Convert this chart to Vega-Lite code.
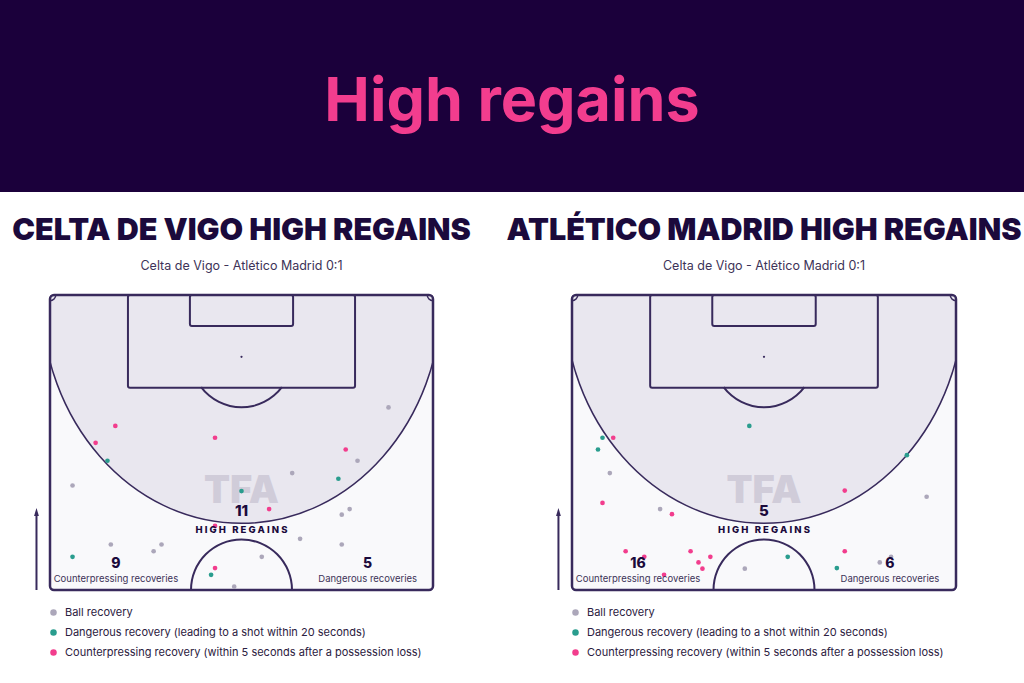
{
  "$schema": "https://vega.github.io/schema/vega-lite/v6.json",
  "padding": 0,
  "background": "white",
  "bounds": "flush",
  "spacing": 103,
  "config": {"view": {"stroke": null}, "font": "Inter"},
  "datasets": {
    "rec": [
      {"team": "Celta de Vigo", "type": "Ball recovery", "x": 60.1, "y": 20.0},
      {"team": "Celta de Vigo", "type": "Ball recovery", "x": 54.6, "y": 29.5},
      {"team": "Celta de Vigo", "type": "Ball recovery", "x": 43.0, "y": 31.7},
      {"team": "Celta de Vigo", "type": "Ball recovery", "x": 4.0, "y": 33.9},
      {"team": "Celta de Vigo", "type": "Ball recovery", "x": 53.2, "y": 38.1},
      {"team": "Celta de Vigo", "type": "Ball recovery", "x": 51.8, "y": 39.1},
      {"team": "Celta de Vigo", "type": "Ball recovery", "x": 44.4, "y": 43.4},
      {"team": "Celta de Vigo", "type": "Ball recovery", "x": 51.8, "y": 44.4},
      {"team": "Celta de Vigo", "type": "Ball recovery", "x": 10.8, "y": 44.4},
      {"team": "Celta de Vigo", "type": "Ball recovery", "x": 19.8, "y": 44.4},
      {"team": "Celta de Vigo", "type": "Ball recovery", "x": 18.4, "y": 45.6},
      {"team": "Celta de Vigo", "type": "Ball recovery", "x": 37.6, "y": 46.6},
      {"team": "Celta de Vigo", "type": "Ball recovery", "x": 32.7, "y": 51.9},
      {"team": "Celta de Vigo", "type": "Dangerous recovery", "x": 10.2, "y": 29.5},
      {"team": "Celta de Vigo", "type": "Dangerous recovery", "x": 51.2, "y": 32.7},
      {"team": "Celta de Vigo", "type": "Dangerous recovery", "x": 34.0, "y": 34.9},
      {"team": "Celta de Vigo", "type": "Dangerous recovery", "x": 4.0, "y": 46.6},
      {"team": "Celta de Vigo", "type": "Dangerous recovery", "x": 28.6, "y": 49.8},
      {"team": "Celta de Vigo", "type": "Counterpressing recovery", "x": 11.6, "y": 23.3},
      {"team": "Celta de Vigo", "type": "Counterpressing recovery", "x": 8.1, "y": 26.3},
      {"team": "Celta de Vigo", "type": "Counterpressing recovery", "x": 29.3, "y": 25.4},
      {"team": "Celta de Vigo", "type": "Counterpressing recovery", "x": 52.5, "y": 27.5},
      {"team": "Celta de Vigo", "type": "Counterpressing recovery", "x": 38.9, "y": 38.1},
      {"team": "Celta de Vigo", "type": "Counterpressing recovery", "x": 29.3, "y": 41.1},
      {"team": "Celta de Vigo", "type": "Counterpressing recovery", "x": 29.3, "y": 48.6},
      {"team": "Atlético Madrid", "type": "Ball recovery", "x": 6.7, "y": 31.7},
      {"team": "Atlético Madrid", "type": "Ball recovery", "x": 15.6, "y": 38.1},
      {"team": "Atlético Madrid", "type": "Ball recovery", "x": 62.8, "y": 35.9},
      {"team": "Atlético Madrid", "type": "Ball recovery", "x": 30.6, "y": 48.7},
      {"team": "Atlético Madrid", "type": "Ball recovery", "x": 56.5, "y": 46.6},
      {"team": "Atlético Madrid", "type": "Ball recovery", "x": 54.5, "y": 47.6},
      {"team": "Atlético Madrid", "type": "Dangerous recovery", "x": 31.4, "y": 23.3},
      {"team": "Atlético Madrid", "type": "Dangerous recovery", "x": 5.4, "y": 25.4},
      {"team": "Atlético Madrid", "type": "Dangerous recovery", "x": 4.6, "y": 27.5},
      {"team": "Atlético Madrid", "type": "Dangerous recovery", "x": 59.3, "y": 28.5},
      {"team": "Atlético Madrid", "type": "Dangerous recovery", "x": 38.2, "y": 46.6},
      {"team": "Atlético Madrid", "type": "Dangerous recovery", "x": 46.9, "y": 48.6},
      {"team": "Atlético Madrid", "type": "Counterpressing recovery", "x": 7.3, "y": 25.4},
      {"team": "Atlético Madrid", "type": "Counterpressing recovery", "x": 5.4, "y": 37.0},
      {"team": "Atlético Madrid", "type": "Counterpressing recovery", "x": 17.7, "y": 39.0},
      {"team": "Atlético Madrid", "type": "Counterpressing recovery", "x": 48.3, "y": 34.8},
      {"team": "Atlético Madrid", "type": "Counterpressing recovery", "x": 9.5, "y": 45.6},
      {"team": "Atlético Madrid", "type": "Counterpressing recovery", "x": 12.8, "y": 46.6},
      {"team": "Atlético Madrid", "type": "Counterpressing recovery", "x": 21.0, "y": 45.6},
      {"team": "Atlético Madrid", "type": "Counterpressing recovery", "x": 24.5, "y": 46.6},
      {"team": "Atlético Madrid", "type": "Counterpressing recovery", "x": 22.4, "y": 47.6},
      {"team": "Atlético Madrid", "type": "Counterpressing recovery", "x": 23.1, "y": 48.7},
      {"team": "Atlético Madrid", "type": "Counterpressing recovery", "x": 16.3, "y": 49.8},
      {"team": "Atlético Madrid", "type": "Counterpressing recovery", "x": 48.3, "y": 45.6}
    ],
    "counts": [
      {"team": "Celta de Vigo", "high": 11, "counter": 9, "dangerous": 5},
      {"team": "Atlético Madrid", "high": 5, "counter": 16, "dangerous": 6}
    ]
  },
  "vconcat": [
    {
      "width": 1024,
      "height": 192,
      "view": {"fill": "#1b003b", "stroke": null},
      "data": {"values": [{}]},
      "mark": {"type": "text", "text": "High regains", "font": "Inter", "fontSize": 61, "fontWeight": 700, "color": "#f23d8e", "baseline": "middle", "dy": 7},
      "encoding": {
        "x": {"datum": 0.5, "type": "quantitative", "scale": {"domain": [0, 1]}, "axis": null},
        "y": {"datum": 0.5, "type": "quantitative", "scale": {"domain": [0, 1]}, "axis": null}
      }
    },
    {
      "bounds": "flush",
      "spacing": 49,
      "hconcat": [
        {
          "width": 1,
          "height": 295,
          "data": {"values": [{}]},
          "mark": {"type": "text", "text": ""},
          "encoding": {}
        },
        {
          "bounds": "flush",
          "spacing": 139,
          "resolve": {"scale": {"x": "independent", "y": "independent", "color": "independent"}},
          "hconcat": [
            {
              "width": 383,
              "height": 295,
              "view": {"fill": "#f9f9fb", "stroke": null},
              "title": {"text": "CELTA DE VIGO HIGH REGAINS", "subtitle": "Celta de Vigo - Atlético Madrid 0:1", "anchor": "middle", "font": "Inter", "fontSize": 30.5, "fontWeight": 900, "color": "#1b0a3c", "subtitleFont": "Inter", "subtitleFontSize": 12.5, "subtitleColor": "#3d3358", "subtitlePadding": 14, "offset": 21},
              "layer": [
                {"data": {"values": [{}]}, "mark": {"type": "point", "shape": "M 0.877 0 C 0.877 0.5523 0.4844 1 0 1 C -0.4844 1 -0.877 0.5523 -0.877 0 C -0.877 -0.5523 -0.4844 -1 0 -1 C 0.4844 -1 0.877 -0.5523 0.877 0 Z", "size": 208500, "filled": true, "fill": "#e9e7ef", "stroke": "#382a5c", "strokeWidth": 1.5, "opacity": 1, "clip": true},
                 "encoding": {"x": {"datum": 34, "type": "quantitative", "scale": {"domain": [0, 68]}, "axis": null}, "y": {"datum": 0, "type": "quantitative", "scale": {"domain": [0, 52.5], "reverse": true}, "axis": null}}},
                {"data": {"values": [{}]}, "mark": {"type": "rect", "fillOpacity": 0, "stroke": "#382a5c", "strokeWidth": 2, "cornerRadius": 2},
                 "encoding": {"x": {"datum": 13.84, "type": "quantitative", "scale": {"domain": [0, 68]}, "axis": null}, "x2": {"datum": 54.16}, "y": {"datum": 0, "type": "quantitative", "scale": {"domain": [0, 52.5], "reverse": true}, "axis": null}, "y2": {"datum": 16.5}}},
                {"data": {"values": [{}]}, "mark": {"type": "rect", "fillOpacity": 0, "stroke": "#382a5c", "strokeWidth": 2, "cornerRadius": 2},
                 "encoding": {"x": {"datum": 24.84, "type": "quantitative", "scale": {"domain": [0, 68]}, "axis": null}, "x2": {"datum": 43.16}, "y": {"datum": 0, "type": "quantitative", "scale": {"domain": [0, 52.5], "reverse": true}, "axis": null}, "y2": {"datum": 5.5}}},
                {"data": {"values": [{}]}, "mark": {"type": "point", "filled": true, "size": 5, "color": "#382a5c", "opacity": 1},
                 "encoding": {"x": {"datum": 34, "type": "quantitative", "scale": {"domain": [0, 68]}, "axis": null}, "y": {"datum": 11, "type": "quantitative", "scale": {"domain": [0, 52.5], "reverse": true}, "axis": null}}},
                {"data": {"values": [{}]}, "mark": {"type": "arc", "radius": 51.5, "radius2": 49.5, "theta": 2.214, "theta2": 4.069, "color": "#382a5c"},
                 "encoding": {"x": {"datum": 34, "type": "quantitative", "scale": {"domain": [0, 68]}, "axis": null}, "y": {"datum": 11, "type": "quantitative", "scale": {"domain": [0, 52.5], "reverse": true}, "axis": null}}},
                {"data": {"values": [{}]}, "mark": {"type": "arc", "radius": 51.5, "radius2": 49.5, "theta": -1.5708, "theta2": 1.5708, "color": "#382a5c"},
                 "encoding": {"x": {"datum": 34, "type": "quantitative", "scale": {"domain": [0, 68]}, "axis": null}, "y": {"datum": 52.5, "type": "quantitative", "scale": {"domain": [0, 52.5], "reverse": true}, "axis": null}}},
                {"data": {"values": [{}]}, "mark": {"type": "arc", "radius": 6.5, "radius2": 5, "theta": 1.5708, "theta2": 3.1416, "color": "#382a5c"},
                 "encoding": {"x": {"datum": 0, "type": "quantitative", "scale": {"domain": [0, 68]}, "axis": null}, "y": {"datum": 0, "type": "quantitative", "scale": {"domain": [0, 52.5], "reverse": true}, "axis": null}}},
                {"data": {"values": [{}]}, "mark": {"type": "arc", "radius": 6.5, "radius2": 5, "theta": 3.1416, "theta2": 4.7124, "color": "#382a5c"},
                 "encoding": {"x": {"datum": 68, "type": "quantitative", "scale": {"domain": [0, 68]}, "axis": null}, "y": {"datum": 0, "type": "quantitative", "scale": {"domain": [0, 52.5], "reverse": true}, "axis": null}}},
                {"data": {"values": [{}]}, "mark": {"type": "rect", "fillOpacity": 0, "stroke": "#382a5c", "strokeWidth": 2.5, "cornerRadius": 4},
                 "encoding": {"x": {"datum": 0, "type": "quantitative", "scale": {"domain": [0, 68]}, "axis": null}, "x2": {"datum": 68}, "y": {"datum": 0, "type": "quantitative", "scale": {"domain": [0, 52.5], "reverse": true}, "axis": null}, "y2": {"datum": 52.5}}},
                {"data": {"values": [{}]}, "mark": {"type": "rule", "color": "#382a5c", "strokeWidth": 2},
                 "encoding": {"x": {"datum": -2.4, "type": "quantitative", "scale": {"domain": [0, 68]}, "axis": null}, "y": {"datum": 38.9, "type": "quantitative", "scale": {"domain": [0, 52.5], "reverse": true}, "axis": null}, "y2": {"datum": 52.5}}},
                {"data": {"values": [{}]}, "mark": {"type": "point", "shape": "M -0.6 1 L 0 -1 L 0.6 1 Z", "filled": true, "size": 64, "color": "#382a5c", "opacity": 1},
                 "encoding": {"x": {"datum": -2.4, "type": "quantitative", "scale": {"domain": [0, 68]}, "axis": null}, "y": {"datum": 38.6, "type": "quantitative", "scale": {"domain": [0, 52.5], "reverse": true}, "axis": null}}},
                {"data": {"values": [{}]}, "mark": {"type": "text", "text": "TFA", "font": "Inter", "fontSize": 38, "fontWeight": 900, "color": "#d0ccd9", "baseline": "alphabetic"},
                 "encoding": {"x": {"datum": 34, "type": "quantitative", "scale": {"domain": [0, 68]}, "axis": null}, "y": {"datum": 37.0, "type": "quantitative", "scale": {"domain": [0, 52.5], "reverse": true}, "axis": null}}},
                {"data": {"name": "rec"}, "transform": [{"filter": "datum.team == 'Celta de Vigo'"}],
                 "mark": {"type": "point", "filled": true, "size": 22, "opacity": 1},
                 "encoding": {
                   "x": {"field": "x", "type": "quantitative", "scale": {"domain": [0, 68]}, "axis": null},
                   "y": {"field": "y", "type": "quantitative", "scale": {"domain": [0, 52.5], "reverse": true}, "axis": null},
                   "color": {"field": "type", "type": "nominal",
                     "scale": {"domain": ["Ball recovery", "Dangerous recovery", "Counterpressing recovery"], "range": ["#aca7ba", "#2a9d8e", "#f23d8d"]},
                     "legend": {"orient": "none", "legendX": -2, "legendY": 312, "title": null, "padding": 0, "labelFont": "Inter", "labelFontSize": 11, "labelColor": "#2b2040", "symbolType": "circle", "symbolSize": 42, "symbolStrokeWidth": 0, "symbolOpacity": 1, "rowPadding": 8, "labelOffset": 6, "labelLimit": 0,
                       "labelExpr": "datum.label == 'Dangerous recovery' ? 'Dangerous recovery (leading to a shot within 20 seconds)' : datum.label == 'Counterpressing recovery' ? 'Counterpressing recovery (within 5 seconds after a possession loss)' : datum.label"}}
                 }},
                {"data": {"name": "counts"}, "transform": [{"filter": "datum.team == 'Celta de Vigo'"}],
                 "mark": {"type": "text", "font": "Inter", "fontSize": 15, "fontWeight": 800, "color": "#1b0a3c"},
                 "encoding": {"x": {"datum": 34, "type": "quantitative", "scale": {"domain": [0, 68]}, "axis": null}, "y": {"datum": 38.5, "type": "quantitative", "scale": {"domain": [0, 52.5], "reverse": true}, "axis": null}, "text": {"field": "high"}}},
                {"data": {"values": [{}]}, "mark": {"type": "text", "text": "H I G H\u00a0\u00a0\u00a0R E G A I N S", "font": "Inter", "fontSize": 9.5, "fontWeight": 800, "color": "#1b0a3c"},
                 "encoding": {"x": {"datum": 34, "type": "quantitative", "scale": {"domain": [0, 68]}, "axis": null}, "y": {"datum": 41.9, "type": "quantitative", "scale": {"domain": [0, 52.5], "reverse": true}, "axis": null}}},
                {"data": {"name": "counts"}, "transform": [{"filter": "datum.team == 'Celta de Vigo'"}],
                 "mark": {"type": "text", "font": "Inter", "fontSize": 14, "fontWeight": 800, "color": "#1b0a3c"},
                 "encoding": {"x": {"datum": 11.7, "type": "quantitative", "scale": {"domain": [0, 68]}, "axis": null}, "y": {"datum": 47.9, "type": "quantitative", "scale": {"domain": [0, 52.5], "reverse": true}, "axis": null}, "text": {"field": "counter"}}},
                {"data": {"values": [{}]}, "mark": {"type": "text", "text": "Counterpressing recoveries", "font": "Inter", "fontSize": 9.5, "color": "#3d3358"},
                 "encoding": {"x": {"datum": 11.7, "type": "quantitative", "scale": {"domain": [0, 68]}, "axis": null}, "y": {"datum": 50.5, "type": "quantitative", "scale": {"domain": [0, 52.5], "reverse": true}, "axis": null}}},
                {"data": {"name": "counts"}, "transform": [{"filter": "datum.team == 'Celta de Vigo'"}],
                 "mark": {"type": "text", "font": "Inter", "fontSize": 14, "fontWeight": 800, "color": "#1b0a3c"},
                 "encoding": {"x": {"datum": 56.4, "type": "quantitative", "scale": {"domain": [0, 68]}, "axis": null}, "y": {"datum": 47.9, "type": "quantitative", "scale": {"domain": [0, 52.5], "reverse": true}, "axis": null}, "text": {"field": "dangerous"}}},
                {"data": {"values": [{}]}, "mark": {"type": "text", "text": "Dangerous recoveries", "font": "Inter", "fontSize": 9.5, "color": "#3d3358"},
                 "encoding": {"x": {"datum": 56.4, "type": "quantitative", "scale": {"domain": [0, 68]}, "axis": null}, "y": {"datum": 50.5, "type": "quantitative", "scale": {"domain": [0, 52.5], "reverse": true}, "axis": null}}}
              ]
            },
            {
              "width": 384,
              "height": 295,
              "view": {"fill": "#f9f9fb", "stroke": null},
              "title": {"text": "ATLÉTICO MADRID HIGH REGAINS", "subtitle": "Celta de Vigo - Atlético Madrid 0:1", "anchor": "middle", "font": "Inter", "fontSize": 30.5, "fontWeight": 900, "color": "#1b0a3c", "subtitleFont": "Inter", "subtitleFontSize": 12.5, "subtitleColor": "#3d3358", "subtitlePadding": 14, "offset": 21},
              "layer": [
                {"data": {"values": [{}]}, "mark": {"type": "point", "shape": "M 0.877 0 C 0.877 0.5523 0.4844 1 0 1 C -0.4844 1 -0.877 0.5523 -0.877 0 C -0.877 -0.5523 -0.4844 -1 0 -1 C 0.4844 -1 0.877 -0.5523 0.877 0 Z", "size": 208500, "filled": true, "fill": "#e9e7ef", "stroke": "#382a5c", "strokeWidth": 1.5, "opacity": 1, "clip": true},
                 "encoding": {"x": {"datum": 34, "type": "quantitative", "scale": {"domain": [0, 68]}, "axis": null}, "y": {"datum": 0, "type": "quantitative", "scale": {"domain": [0, 52.5], "reverse": true}, "axis": null}}},
                {"data": {"values": [{}]}, "mark": {"type": "rect", "fillOpacity": 0, "stroke": "#382a5c", "strokeWidth": 2, "cornerRadius": 2},
                 "encoding": {"x": {"datum": 13.84, "type": "quantitative", "scale": {"domain": [0, 68]}, "axis": null}, "x2": {"datum": 54.16}, "y": {"datum": 0, "type": "quantitative", "scale": {"domain": [0, 52.5], "reverse": true}, "axis": null}, "y2": {"datum": 16.5}}},
                {"data": {"values": [{}]}, "mark": {"type": "rect", "fillOpacity": 0, "stroke": "#382a5c", "strokeWidth": 2, "cornerRadius": 2},
                 "encoding": {"x": {"datum": 24.84, "type": "quantitative", "scale": {"domain": [0, 68]}, "axis": null}, "x2": {"datum": 43.16}, "y": {"datum": 0, "type": "quantitative", "scale": {"domain": [0, 52.5], "reverse": true}, "axis": null}, "y2": {"datum": 5.5}}},
                {"data": {"values": [{}]}, "mark": {"type": "point", "filled": true, "size": 5, "color": "#382a5c", "opacity": 1},
                 "encoding": {"x": {"datum": 34, "type": "quantitative", "scale": {"domain": [0, 68]}, "axis": null}, "y": {"datum": 11, "type": "quantitative", "scale": {"domain": [0, 52.5], "reverse": true}, "axis": null}}},
                {"data": {"values": [{}]}, "mark": {"type": "arc", "radius": 51.5, "radius2": 49.5, "theta": 2.214, "theta2": 4.069, "color": "#382a5c"},
                 "encoding": {"x": {"datum": 34, "type": "quantitative", "scale": {"domain": [0, 68]}, "axis": null}, "y": {"datum": 11, "type": "quantitative", "scale": {"domain": [0, 52.5], "reverse": true}, "axis": null}}},
                {"data": {"values": [{}]}, "mark": {"type": "arc", "radius": 51.5, "radius2": 49.5, "theta": -1.5708, "theta2": 1.5708, "color": "#382a5c"},
                 "encoding": {"x": {"datum": 34, "type": "quantitative", "scale": {"domain": [0, 68]}, "axis": null}, "y": {"datum": 52.5, "type": "quantitative", "scale": {"domain": [0, 52.5], "reverse": true}, "axis": null}}},
                {"data": {"values": [{}]}, "mark": {"type": "arc", "radius": 6.5, "radius2": 5, "theta": 1.5708, "theta2": 3.1416, "color": "#382a5c"},
                 "encoding": {"x": {"datum": 0, "type": "quantitative", "scale": {"domain": [0, 68]}, "axis": null}, "y": {"datum": 0, "type": "quantitative", "scale": {"domain": [0, 52.5], "reverse": true}, "axis": null}}},
                {"data": {"values": [{}]}, "mark": {"type": "arc", "radius": 6.5, "radius2": 5, "theta": 3.1416, "theta2": 4.7124, "color": "#382a5c"},
                 "encoding": {"x": {"datum": 68, "type": "quantitative", "scale": {"domain": [0, 68]}, "axis": null}, "y": {"datum": 0, "type": "quantitative", "scale": {"domain": [0, 52.5], "reverse": true}, "axis": null}}},
                {"data": {"values": [{}]}, "mark": {"type": "rect", "fillOpacity": 0, "stroke": "#382a5c", "strokeWidth": 2.5, "cornerRadius": 4},
                 "encoding": {"x": {"datum": 0, "type": "quantitative", "scale": {"domain": [0, 68]}, "axis": null}, "x2": {"datum": 68}, "y": {"datum": 0, "type": "quantitative", "scale": {"domain": [0, 52.5], "reverse": true}, "axis": null}, "y2": {"datum": 52.5}}},
                {"data": {"values": [{}]}, "mark": {"type": "rule", "color": "#382a5c", "strokeWidth": 2},
                 "encoding": {"x": {"datum": -2.4, "type": "quantitative", "scale": {"domain": [0, 68]}, "axis": null}, "y": {"datum": 38.9, "type": "quantitative", "scale": {"domain": [0, 52.5], "reverse": true}, "axis": null}, "y2": {"datum": 52.5}}},
                {"data": {"values": [{}]}, "mark": {"type": "point", "shape": "M -0.6 1 L 0 -1 L 0.6 1 Z", "filled": true, "size": 64, "color": "#382a5c", "opacity": 1},
                 "encoding": {"x": {"datum": -2.4, "type": "quantitative", "scale": {"domain": [0, 68]}, "axis": null}, "y": {"datum": 38.6, "type": "quantitative", "scale": {"domain": [0, 52.5], "reverse": true}, "axis": null}}},
                {"data": {"values": [{}]}, "mark": {"type": "text", "text": "TFA", "font": "Inter", "fontSize": 38, "fontWeight": 900, "color": "#d0ccd9", "baseline": "alphabetic"},
                 "encoding": {"x": {"datum": 34, "type": "quantitative", "scale": {"domain": [0, 68]}, "axis": null}, "y": {"datum": 37.0, "type": "quantitative", "scale": {"domain": [0, 52.5], "reverse": true}, "axis": null}}},
                {"data": {"name": "rec"}, "transform": [{"filter": "datum.team == 'Atlético Madrid'"}],
                 "mark": {"type": "point", "filled": true, "size": 22, "opacity": 1},
                 "encoding": {
                   "x": {"field": "x", "type": "quantitative", "scale": {"domain": [0, 68]}, "axis": null},
                   "y": {"field": "y", "type": "quantitative", "scale": {"domain": [0, 52.5], "reverse": true}, "axis": null},
                   "color": {"field": "type", "type": "nominal",
                     "scale": {"domain": ["Ball recovery", "Dangerous recovery", "Counterpressing recovery"], "range": ["#aca7ba", "#2a9d8e", "#f23d8d"]},
                     "legend": {"orient": "none", "legendX": -2, "legendY": 312, "title": null, "padding": 0, "labelFont": "Inter", "labelFontSize": 11, "labelColor": "#2b2040", "symbolType": "circle", "symbolSize": 42, "symbolStrokeWidth": 0, "symbolOpacity": 1, "rowPadding": 8, "labelOffset": 6, "labelLimit": 0,
                       "labelExpr": "datum.label == 'Dangerous recovery' ? 'Dangerous recovery (leading to a shot within 20 seconds)' : datum.label == 'Counterpressing recovery' ? 'Counterpressing recovery (within 5 seconds after a possession loss)' : datum.label"}}
                 }},
                {"data": {"name": "counts"}, "transform": [{"filter": "datum.team == 'Atlético Madrid'"}],
                 "mark": {"type": "text", "font": "Inter", "fontSize": 15, "fontWeight": 800, "color": "#1b0a3c"},
                 "encoding": {"x": {"datum": 34, "type": "quantitative", "scale": {"domain": [0, 68]}, "axis": null}, "y": {"datum": 38.5, "type": "quantitative", "scale": {"domain": [0, 52.5], "reverse": true}, "axis": null}, "text": {"field": "high"}}},
                {"data": {"values": [{}]}, "mark": {"type": "text", "text": "H I G H\u00a0\u00a0\u00a0R E G A I N S", "font": "Inter", "fontSize": 9.5, "fontWeight": 800, "color": "#1b0a3c"},
                 "encoding": {"x": {"datum": 34, "type": "quantitative", "scale": {"domain": [0, 68]}, "axis": null}, "y": {"datum": 41.9, "type": "quantitative", "scale": {"domain": [0, 52.5], "reverse": true}, "axis": null}}},
                {"data": {"name": "counts"}, "transform": [{"filter": "datum.team == 'Atlético Madrid'"}],
                 "mark": {"type": "text", "font": "Inter", "fontSize": 14, "fontWeight": 800, "color": "#1b0a3c"},
                 "encoding": {"x": {"datum": 11.7, "type": "quantitative", "scale": {"domain": [0, 68]}, "axis": null}, "y": {"datum": 47.9, "type": "quantitative", "scale": {"domain": [0, 52.5], "reverse": true}, "axis": null}, "text": {"field": "counter"}}},
                {"data": {"values": [{}]}, "mark": {"type": "text", "text": "Counterpressing recoveries", "font": "Inter", "fontSize": 9.5, "color": "#3d3358"},
                 "encoding": {"x": {"datum": 11.7, "type": "quantitative", "scale": {"domain": [0, 68]}, "axis": null}, "y": {"datum": 50.5, "type": "quantitative", "scale": {"domain": [0, 52.5], "reverse": true}, "axis": null}}},
                {"data": {"name": "counts"}, "transform": [{"filter": "datum.team == 'Atlético Madrid'"}],
                 "mark": {"type": "text", "font": "Inter", "fontSize": 14, "fontWeight": 800, "color": "#1b0a3c"},
                 "encoding": {"x": {"datum": 56.3, "type": "quantitative", "scale": {"domain": [0, 68]}, "axis": null}, "y": {"datum": 47.9, "type": "quantitative", "scale": {"domain": [0, 52.5], "reverse": true}, "axis": null}, "text": {"field": "dangerous"}}},
                {"data": {"values": [{}]}, "mark": {"type": "text", "text": "Dangerous recoveries", "font": "Inter", "fontSize": 9.5, "color": "#3d3358"},
                 "encoding": {"x": {"datum": 56.3, "type": "quantitative", "scale": {"domain": [0, 68]}, "axis": null}, "y": {"datum": 50.5, "type": "quantitative", "scale": {"domain": [0, 52.5], "reverse": true}, "axis": null}}}
              ]
            }
          ]
        }
      ]
    }
  ]
}
